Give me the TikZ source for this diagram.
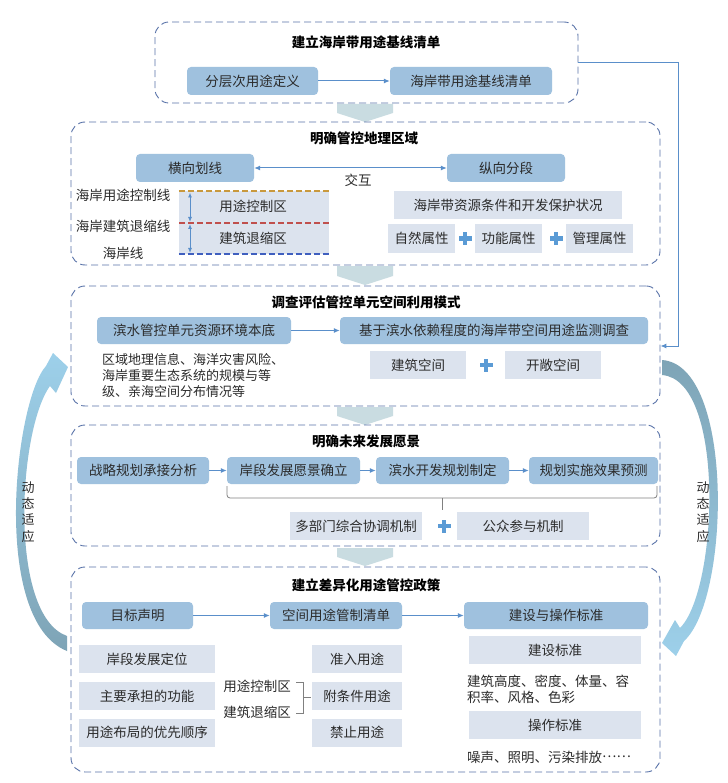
\documentclass[tikz,border=0pt]{standalone}
\usepackage{fontspec}
\setmainfont{Noto Sans CJK SC}
\usetikzlibrary{arrows.meta,calc}
\definecolor{hdr}{HTML}{9FC1DE}
\definecolor{lgt}{HTML}{DCE3EE}
\definecolor{frm}{HTML}{5872A8}
\definecolor{cn}{HTML}{5A8FCA}
\definecolor{txt}{HTML}{2B2B2B}
\definecolor{chev}{HTML}{C9DCE1}
\definecolor{plusc}{HTML}{5B9BD5}
\definecolor{arrL}{HTML}{9DD0EA}
\definecolor{arrD}{HTML}{7EA4B6}
\definecolor{goldc}{HTML}{C9993D}
\definecolor{redc}{HTML}{C0504D}
\definecolor{bluec}{HTML}{3F5FBF}
\definecolor{brc}{HTML}{808080}
\newcommand\fs{\fontsize{13.5}{16}\selectfont}
\tikzset{
 frame/.style={draw=frm, line width=0.9pt, dash pattern=on 7pt off 4pt, rounded corners=14pt, inner sep=0pt},
 hb/.style={fill=hdr, rounded corners=4pt, inner sep=0pt, text=txt, font=\fs},
 lb/.style={fill=lgt, inner sep=0pt, text=txt, font=\fs},
 ttl/.style={font=\fs\bfseries, text=black, inner sep=0pt},
 lbl/.style={font=\fs, text=txt, inner sep=0pt},
 conn/.style={draw=cn, line width=1pt, -{Latex[length=6pt,width=5pt]}},
 pls/.pic={\fill[plusc] (-6.5,-2.2) rectangle (6.5,2.2); \fill[plusc] (-2.2,-6.5) rectangle (2.2,6.5);},
}
\begin{document}
\begin{tikzpicture}[x=1pt,y=-1pt]
\useasboundingbox[fill=white] (0,0) rectangle (727,783);
% chevrons
\fill[chev] (337,104) -- (393,104) -- (393,113) -- (365,122) -- (337,113) -- cycle;
\fill[chev] (337,266) -- (393,266) -- (393,276) -- (365,285) -- (337,276) -- cycle;
\fill[chev] (337,407) -- (393,407) -- (393,416) -- (365,425) -- (337,416) -- cycle;
\fill[chev] (337,548) -- (393,548) -- (393,557) -- (365,566) -- (337,557) -- cycle;
% side arrows
\shade[top color=arrL, bottom color=arrD] (67,651) .. controls (-10,620) and (15,400) .. (46,366) -- (53,353) -- (68,367) -- (56,393) -- (50,386) .. controls (18,430) and (8,615) .. (67,636) -- cycle;
\shade[top color=arrD, bottom color=arrL] (662,360) .. controls (735,365) and (730,600) .. (684,641) -- (676,656) -- (662,643) -- (675,620) -- (680,628) .. controls (718,590) and (726,380) .. (662,375) -- cycle;
\node[lbl, align=center, font=\fontsize{13}{16.3}\selectfont] (sl) at (28,512) {动\\态\\适\\应};
\node[lbl, align=center, font=\fontsize{13}{16.3}\selectfont] (sr) at (703,512) {动\\态\\适\\应};
% frames
\node[frame, minimum width=423pt, minimum height=81pt] (f1) at (366.5,62.5) {};
\node[frame, minimum width=589pt, minimum height=143pt] (f2) at (365.5,193.5) {};
\node[frame, minimum width=589pt, minimum height=120pt] (f3) at (365.5,346) {};
\node[frame, minimum width=589pt, minimum height=121pt] (f4) at (365.5,485.5) {};
\node[frame, minimum width=589pt, minimum height=205pt] (f5) at (365.5,669.5) {};
% box 1
\node[ttl] (t1) at (366,42) {建立海岸带用途基线清单};
\node[hb, minimum width=131pt, minimum height=28pt] (a1) at (252.5,81) {分层次用途定义};
\node[hb, minimum width=162pt, minimum height=28pt] (a2) at (471,81) {海岸带用途基线清单};
\draw[conn] (a1) -- (a2);
\coordinate (fb) at (678,62.5);
\draw[conn] (f1.east) -- (fb) |- (f3.east);
% box 2
\node[ttl] (t2) at (364,138) {明确管控地理区域};
\node[hb, minimum width=118pt, minimum height=28pt] (b1) at (195,168) {横向划线};
\node[hb, minimum width=118pt, minimum height=28pt] (b2) at (506,168) {纵向分段};
\draw[conn, {Latex[length=6pt,width=5pt]}-{Latex[length=6pt,width=5pt]}] (b1) -- (b2);
\node[lbl] (jh) at (358,180) {交互};
\node[fill=lgt, inner sep=0pt, minimum width=150pt, minimum height=63pt] (z) at (254,222.5) {};
\coordinate (zl) at (179,223);
\coordinate (zr) at (329,223);
\draw[goldc, line width=1.5pt, dash pattern=on 6pt off 3pt] (z.north west) -- (z.north east);
\draw[redc, line width=1.5pt, dash pattern=on 6pt off 3pt] (zl) -- (zr);
\draw[bluec, line width=1.5pt, dash pattern=on 6pt off 3pt] (z.south west) -- (z.south east);
\coordinate (v1) at (190,192.5);
\coordinate (v2) at (190,222);
\coordinate (v3) at (190,224);
\coordinate (v4) at (190,253);
\draw[cn, line width=0.9pt, {Latex[length=5pt,width=4pt]}-{Latex[length=5pt,width=4pt]}] (v1) -- (v2);
\draw[cn, line width=0.9pt, {Latex[length=5pt,width=4pt]}-{Latex[length=5pt,width=4pt]}] (v3) -- (v4);
\node[lbl] (za) at (253,206) {用途控制区};
\node[lbl] (zb) at (253,238) {建筑退缩区};
\node[lbl] (l1) at (123,195) {海岸用途控制线};
\node[lbl] (l2) at (123,226) {海岸建筑退缩线};
\node[lbl] (l3) at (123,253) {海岸线};
\node[lb, minimum width=228pt, minimum height=28pt] (b3) at (508,205) {海岸带资源条件和开发保护状况};
\node[lb, minimum width=67pt, minimum height=29pt] (b4) at (421.5,238.5) {自然属性};
\pic at (465,238.5) {pls};
\node[lb, minimum width=67pt, minimum height=29pt] (b5) at (508.5,238.5) {功能属性};
\pic at (556,238.5) {pls};
\node[lb, minimum width=67pt, minimum height=29pt] (b6) at (599.5,238.5) {管理属性};
% box 3
\node[ttl] (t3) at (366,302) {调查评估管控单元空间利用模式};
\node[hb, minimum width=194pt, minimum height=27pt] (c1) at (194,330.5) {滨水管控单元资源环境本底};
\node[hb, minimum width=308pt, minimum height=27pt] (c2) at (494,330.5) {基于滨水依赖程度的海岸带空间用途监测调查};
\draw[conn] (c1) -- (c2);
\node[lbl, anchor=west, align=left, font=\fontsize{13}{16}\selectfont] (c3) at (102,376) {区域地理信息、海洋灾害风险、\\海岸重要生态系统的规模与等\\级、亲海空间分布情况等};
\node[lb, minimum width=96pt, minimum height=28pt] (c4) at (418,365) {建筑空间};
\pic at (486,365) {pls};
\node[lb, minimum width=96pt, minimum height=28pt] (c5) at (553,365) {开敞空间};
% box 4
\node[ttl] (t4) at (366,441) {明确未来发展愿景};
\node[hb, minimum width=132pt, minimum height=27pt] (d1) at (143,470.5) {战略规划承接分析};
\node[hb, minimum width=133pt, minimum height=27pt] (d2) at (293.5,470.5) {岸段发展愿景确立};
\node[hb, minimum width=133pt, minimum height=27pt] (d3) at (442.5,470.5) {滨水开发规划制定};
\node[hb, minimum width=129pt, minimum height=27pt] (d4) at (593.5,470.5) {规划实施效果预测};
\draw[conn] (d1) -- (d2);
\draw[conn] (d2) -- (d3);
\draw[conn] (d3) -- (d4);
\coordinate (br1) at (227,486);
\coordinate (br2) at (657,486);
\coordinate (brm) at (442,498);
\coordinate (brt) at (442,510);
\draw[brc, line width=0.8pt, rounded corners=3pt] (br1) -- (br1 |- brm) -- (br2 |- brm) -- (br2);
\draw[brc, line width=0.8pt] (brm) -- (brt);
\node[lb, minimum width=132pt, minimum height=28pt] (e1) at (356,526) {多部门综合协调机制};
\pic at (444,526) {pls};
\node[lb, minimum width=132pt, minimum height=28pt] (e2) at (523,526) {公众参与机制};
% box 5
\node[ttl] (t5) at (366,585) {建立差异化用途管控政策};
\node[hb, minimum width=111pt, minimum height=27pt] (g1) at (137.5,615.5) {目标声明};
\node[hb, minimum width=132pt, minimum height=27pt] (g2) at (336,615.5) {空间用途管制清单};
\node[hb, minimum width=184pt, minimum height=27pt] (g3) at (556,615.5) {建设与操作标准};
\draw[conn] (g1) -- (g2);
\draw[conn] (g2) -- (g3);
\node[lb, minimum width=136pt, minimum height=28pt] (h1) at (147,659) {岸段发展定位};
\node[lb, minimum width=136pt, minimum height=28pt] (h2) at (147,696) {主要承担的功能};
\node[lb, minimum width=136pt, minimum height=28pt] (h3) at (147,732.5) {用途布局的优先顺序};
\node[lbl] (k1) at (257,686) {用途控制区};
\node[lbl] (k2) at (257,712) {建筑退缩区};
\coordinate (q1) at (296,682);
\coordinate (q2) at (303,682);
\coordinate (q3) at (303,713);
\coordinate (q4) at (296,713);
\coordinate (q5) at (303,697);
\coordinate (q6) at (311,697);
\draw[brc, line width=0.8pt] (q1) -- (q2) -- (q3) -- (q4);
\draw[brc, line width=0.8pt] (q5) -- (q6);
\node[lb, minimum width=90pt, minimum height=28pt] (m1) at (357,659) {准入用途};
\node[lb, minimum width=90pt, minimum height=28pt] (m2) at (357,696) {附条件用途};
\node[lb, minimum width=90pt, minimum height=28pt] (m3) at (357,732.5) {禁止用途};
\node[lb, minimum width=172pt, minimum height=28pt] (r1) at (555,650) {建设标准};
\node[lbl, anchor=west, align=left, font=\fontsize{13.5}{15.5}\selectfont] (r2) at (467,689.5) {建筑高度、密度、体量、容\\积率、风格、色彩};
\node[lb, minimum width=172pt, minimum height=28pt] (r3) at (555,725) {操作标准};
\node[lbl, anchor=west] (r4) at (467,757) {噪声、照明、污染排放\raisebox{0.32em}{……}};
\end{tikzpicture}
\end{document}
